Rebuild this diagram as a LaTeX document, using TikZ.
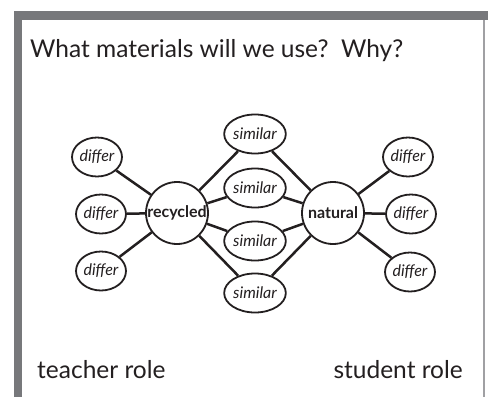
\documentclass[tikz,border=0pt]{standalone}
\usepackage{fontspec}
\setmainfont{Lato}
\usetikzlibrary{shapes.geometric}
\definecolor{ink}{HTML}{231F20}
\definecolor{frame}{HTML}{77787B}
\pgfdeclarelayer{bg}
\pgfsetlayers{bg,main}
\tikzset{
  hub/.style={circle, draw=ink, line width=1.8pt, minimum size=62pt, inner sep=0pt, fill=white},
  leaf/.style={ellipse, draw=ink, line width=1.8pt, minimum width=50pt, minimum height=39pt, inner sep=0pt, fill=white, font=\fontsize{16}{16}\selectfont\itshape, text=ink},
  link/.style={draw=ink, line width=2.5pt},
  hubtext/.style={font=\fontsize{16}{16}\selectfont\bfseries, text=ink},
  bigtext/.style={font=\fontsize{24.5}{24.5}\selectfont, text=ink, inner sep=0pt}
}
\begin{document}
\begin{tikzpicture}[x=1pt,y=-1pt]
\useasboundingbox (0,0) rectangle (488,397);
% title
\node[bigtext, anchor=base west] (title) at (30,57) {What materials will we use?\ \ Why?};
% hubs
\node[hub] (rec) at (177,213) {};
\node[hub] (nat) at (333,213) {};
\node[hubtext] (rect) at (rec.center) {recycled};
\node[hubtext] (natt) at (nat.center) {natural};
% leaves left
\node[leaf] (dl1) at (97,157) {differ};
\node[leaf] (dl2) at (101,214) {differ};
\node[leaf] (dl3) at (101,271) {differ};
% similar
\node[leaf] (s1) at (255,134) {similar};
\node[leaf] (s2) at (255,188) {similar};
\node[leaf] (s3) at (255,241) {similar};
\node[leaf] (s4) at (255,293) {similar};
% leaves right
\node[leaf] (dr1) at (408,157) {differ};
\node[leaf] (dr2) at (411,214) {differ};
\node[leaf] (dr3) at (410,272) {differ};
% bottom labels
\node[bigtext, anchor=base west] (teacher) at (37,378) {teacher role};
\node[bigtext, anchor=base east] (student) at (463,378) {student role};
% background, frame and links
\begin{pgfonlayer}{bg}
\fill[white] (0,0) rectangle (488,397);
\fill[frame] (14,11) rectangle (488,20);
\fill[frame] (14,11) rectangle (22,397);
\draw[frame!70, line width=1.5pt] (484,20) -- (484,397);
\foreach \a/\b in {rec/dl1,rec/dl2,rec/dl3,rec/s1,rec/s2,rec/s3,rec/s4,nat/s1,nat/s2,nat/s3,nat/s4,nat/dr1,nat/dr2,nat/dr3}
  \draw[link] (\a) -- (\b);
\end{pgfonlayer}
\end{tikzpicture}
\end{document}
